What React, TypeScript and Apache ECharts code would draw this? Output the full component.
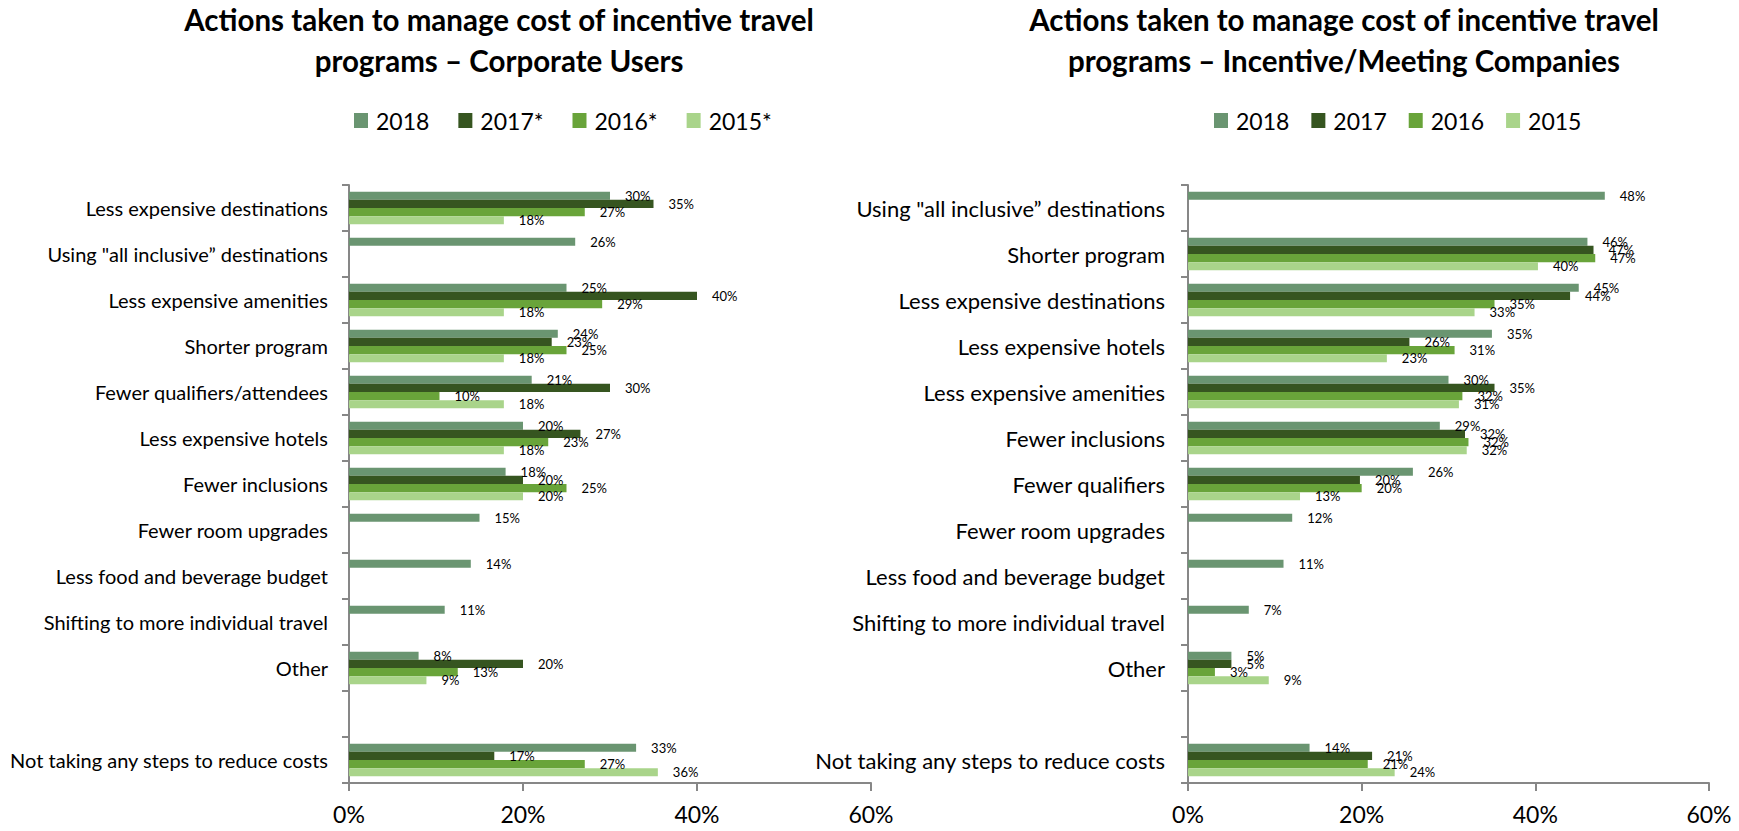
import React, { useEffect, useRef } from "react";
import * as echarts from "echarts";

const leftCategories = [
  "Less expensive destinations",
  'Using "all inclusive” destinations',
  "Less expensive amenities",
  "Shorter program",
  "Fewer qualifiers/attendees",
  "Less expensive hotels",
  "Fewer inclusions",
  "Fewer room upgrades",
  "Less food and beverage budget",
  "Shifting to more individual travel",
  "Other",
  "",
  "Not taking any steps to reduce costs",
];
const leftSeriesNames = ["2018", "2017*", "2016*", "2015*"];
const left2018 = [30, 26, 25, 24, 21, 20, 18, 15, 14, 11, 8, null, 33];
const left2017 = [35, null, 40, 23.3, 30, 26.6, 20, null, null, null, 20, null, 16.7];
const left2016 = [27.1, null, 29.1, 25, 10.4, 22.9, 25, null, null, null, 12.5, null, 27.1];
const left2015 = [17.8, null, 17.8, 17.8, 17.8, 17.8, 20, null, null, null, 8.9, null, 35.5];

const rightCategories = [
  'Using "all inclusive” destinations',
  "Shorter program",
  "Less expensive destinations",
  "Less expensive hotels",
  "Less expensive amenities",
  "Fewer inclusions",
  "Fewer qualifiers",
  "Fewer room upgrades",
  "Less food and beverage budget",
  "Shifting to more individual travel",
  "Other",
  "",
  "Not taking any steps to reduce costs",
];
const rightSeriesNames = ["2018", "2017", "2016", "2015"];
const right2018 = [48, 46, 45, 35, 30, 29, 25.9, 12, 11, 7, 5, null, 14];
const right2017 = [null, 46.7, 44, 25.5, 35.3, 31.9, 19.8, null, null, null, 5, null, 21.2];
const right2016 = [null, 46.9, 35.3, 30.7, 31.6, 32.3, 20, null, null, null, 3.1, null, 20.7];
const right2015 = [null, 40.3, 33, 22.9, 31.2, 32.1, 12.9, null, null, null, 9.3, null, 23.8];

const xTicks = { min: 0, max: 60, interval: 20 };

const leftTitle = "Actions taken to manage cost of incentive travel\nprograms – Corporate Users";
const rightTitle = "Actions taken to manage cost of incentive travel\nprograms – Incentive/Meeting Companies";

const colors = ["#6A9571", "#365520", "#69A43A", "#A9D48A"];
const FONT = "Lato, 'Open Sans', sans-serif";
const AXIS_COLOR = "#878787";

export default function App() {
  const ref = useRef<HTMLDivElement>(null);

  useEffect(() => {
    if (!ref.current) return;
    const chart = echarts.init(ref.current, null, { renderer: "svg" });

    const grids = [
      { left: 349, top: 185, width: 522, height: 598 },
      { left: 1188, top: 185, width: 521, height: 598 },
    ];

    const makeX = (gi: number) => ({
      type: "value",
      gridIndex: gi,
      min: xTicks.min,
      max: xTicks.max,
      interval: xTicks.interval,
      splitLine: { show: false },
      axisLine: { show: true, lineStyle: { color: AXIS_COLOR, width: 2 } },
      axisTick: { show: true, length: 8, lineStyle: { color: AXIS_COLOR, width: 2 } },
      axisLabel: {
        formatter: "{value}%",
        fontSize: 23,
        color: "#000",
        margin: 19,
        fontFamily: FONT,
      },
    });

    const makeY = (gi: number, cats: string[], fs: number, margin: number) => ({
      type: "category",
      gridIndex: gi,
      inverse: true,
      data: cats,
      axisLine: { show: true, lineStyle: { color: AXIS_COLOR, width: 2 } },
      axisTick: { show: true, length: 7, interval: 0, alignWithLabel: false, lineStyle: { color: AXIS_COLOR, width: 2 } },
      axisLabel: { interval: 0, fontSize: fs, color: "#000", margin, fontFamily: FONT },
      splitLine: { show: false },
    });

    const labelCfg = {
      show: true,
      position: "right",
      distance: 15,
      fontSize: 13,
      color: "#000",
      fontFamily: FONT,
      formatter: (p: any) => (p.value == null ? "" : Math.round(p.value) + "%"),
    };

    const makeSeries = (name: string, data: (number | null)[], gi: number, ci: number) => ({
      type: "bar",
      name,
      xAxisIndex: gi,
      yAxisIndex: gi,
      data,
      barCategoryGap: "29%",
      barGap: "0%",
      itemStyle: { color: colors[ci] },
      label: labelCfg,
    });

    const leftData = [left2018, left2017, left2016, left2015];
    const rightData = [right2018, right2017, right2016, right2015];

    const series: any[] = [];
    leftSeriesNames.forEach((n, i) => series.push(makeSeries(n, leftData[i], 0, i)));
    rightSeriesNames.forEach((n, i) => series.push(makeSeries(n, rightData[i], 1, i)));

    const legendBase = {
      itemWidth: 14,
      itemHeight: 15,
      icon: "rect",
      textStyle: { fontSize: 23, color: "#000", fontFamily: FONT, padding: [0, 0, 0, 3] },
      selectedMode: false,
    };

    const titleStyle = {
      fontSize: 29.5,
      fontWeight: "bold",
      fontFamily: FONT,
      lineHeight: 41,
      textAlign: "center",
      textVerticalAlign: "middle",
      fill: "#000",
    };

    chart.setOption({
      animation: false,
      backgroundColor: "#fff",
      grid: grids,
      xAxis: [makeX(0), makeX(1)],
      yAxis: [makeY(0, leftCategories, 20, 21), makeY(1, rightCategories, 22, 23)],
      legend: [
        { ...legendBase, itemGap: 29, data: leftSeriesNames, left: 349, top: 104 },
        { ...legendBase, itemGap: 22, data: rightSeriesNames, left: 1209, top: 104 },
      ],
      graphic: [
        { type: "text", x: 499, y: 40, style: { ...titleStyle, text: leftTitle } },
        { type: "text", x: 1344, y: 40, style: { ...titleStyle, text: rightTitle } },
      ],
      series,
    });

    return () => chart.dispose();
  }, []);

  return (
    <div
      ref={ref}
      style={{ position: "absolute", left: 0, top: 0, width: 1739, height: 831, background: "#fff" }}
    />
  );
}
